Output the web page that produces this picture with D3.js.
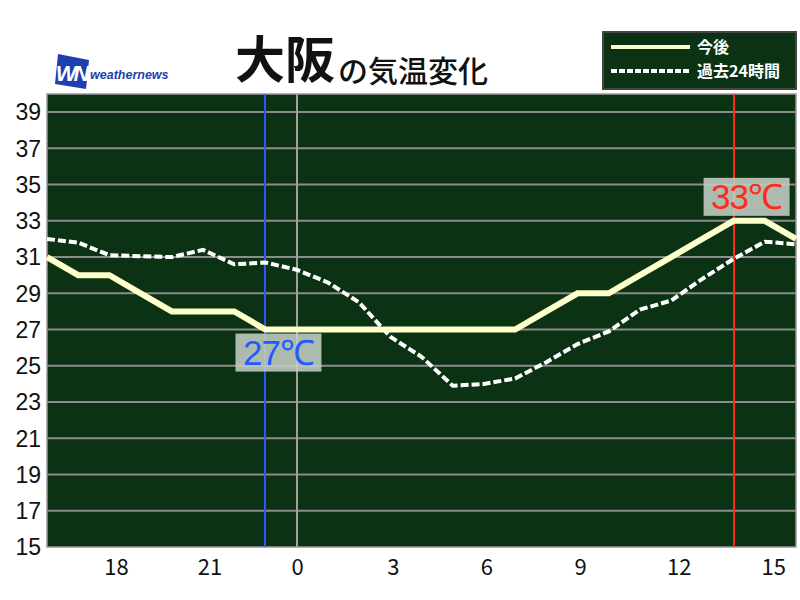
<!DOCTYPE html>
<html><head><meta charset="utf-8">
<script src="https://cdn.jsdelivr.net/npm/d3@7"></script>
<style>body{margin:0;background:#fff}svg{display:block}</style>
</head><body>
<script>
// Data
const hours = [-8,-7,-6,-5,-4,-3,-2,-1,0,1,2,3,4,5,6,7,8,9,10,11,12,13,14,15,16];
const forecast = [31,30,30,29,28,28,28,27,27,27,27,27,27,27,27,27,28,29,29,30,31,32,33,33,32];
const past24 = [32.0,31.8,31.1,31.05,31.0,31.4,30.6,30.7,30.3,29.6,28.5,26.6,25.5,23.9,24.0,24.3,25.2,26.2,26.9,28.1,28.6,29.8,30.9,31.85,31.7];
const xTickHours = [-6,-3,0,3,6,9,12,15];
const xTickLabels = ["18","21","0","3","6","9","12","15"];
const yTicks = [15,17,19,21,23,25,27,29,31,33,35,37,39];
const minHour = -1, minTemp = 27;
const maxHour = 14, maxTemp = 33;

const W = 800, H = 600;
const svg = d3.select("body").append("svg").attr("width", W).attr("height", H);
const L = 47, R = 796, T = 94, B = 547;
const x = d3.scaleLinear().domain([-8,16]).range([L,R]);
const y = d3.scaleLinear().domain([15,40]).range([B,T]);

// plot background
svg.append("rect").attr("x",L).attr("y",T).attr("width",R-L).attr("height",B-T)
  .attr("fill","#0b3313").attr("stroke","#9a9a9a").attr("stroke-width",1.5);

// grid lines
svg.append("g").selectAll("line").data(yTicks.filter(d=>d>15)).join("line")
  .attr("x1",L).attr("x2",R).attr("y1",d=>y(d)).attr("y2",d=>y(d))
  .attr("stroke","#8c8c8c").attr("stroke-width",2);

// vertical markers
const vx = h => Math.round(x(h));
svg.append("line").attr("x1",vx(0)).attr("x2",vx(0)).attr("y1",T).attr("y2",B)
  .attr("stroke","#a0a0a0").attr("stroke-width",2);
svg.append("line").attr("x1",vx(minHour)).attr("x2",vx(minHour)).attr("y1",T).attr("y2",B)
  .attr("stroke","#2a55ff").attr("stroke-width",2);
svg.append("line").attr("x1",vx(maxHour)).attr("x2",vx(maxHour)).attr("y1",T).attr("y2",B)
  .attr("stroke","#ff2a1a").attr("stroke-width",2);

const line = d3.line().x((d,i)=>x(hours[i])).y(d=>y(d));
svg.append("path").datum(past24).attr("d",line).attr("fill","none")
  .attr("stroke","#ffffff").attr("stroke-width",4).attr("stroke-dasharray","8,3");
svg.append("path").datum(forecast).attr("d",line).attr("fill","none")
  .attr("stroke","#ffffcc").attr("stroke-width",6).attr("stroke-linejoin","miter");

// y axis labels
svg.append("g").selectAll("text").data(yTicks).join("text")
  .attr("x",41).attr("y",d=>y(d)).attr("dy","0.36em").attr("text-anchor","end")
  .attr("font-family","Liberation Sans, Arial, sans-serif").attr("font-size",23)
  .attr("fill","#111").text(d=>d);

// x axis labels
svg.append("g").selectAll("text").data(xTickHours).join("text")
  .attr("x",(d,i)=>x(d)+ (d<0?7:(d>=12?(d==15?9:8):(d==0?1:3)))).attr("y",575).attr("text-anchor","middle")
  .attr("font-family","Noto Sans CJK JP, sans-serif").attr("font-size",22)
  .attr("fill","#111").text((d,i)=>xTickLabels[i]);

// min / max labels
function tempLabel(h, t, color, above){
  const cx = x(h)+13;
  const bw = 86, bh = 38;
  const by = above ? y(t)-5-bh : y(t)+4;
  svg.append("rect").attr("x",cx-bw/2).attr("y",by).attr("width",bw).attr("height",bh)
    .attr("fill","#c4cec4").attr("fill-opacity",0.88);
  svg.append("text").attr("x",cx).attr("y",by+bh/2).attr("dy","0.36em").attr("text-anchor","middle")
    .attr("font-family","Liberation Sans, Arial, sans-serif").attr("font-size",35)
    .attr("fill",color).attr("letter-spacing",-1).text(t+"℃");
}
tempLabel(minHour, minTemp, "#1f5cff", false);
tempLabel(maxHour, maxTemp, "#ff2a1a", true);

// title
const title = svg.append("text").attr("y",78).attr("font-family","Noto Sans CJK JP, sans-serif").attr("fill","#111");
title.append("tspan").attr("x",235).attr("font-size",50).attr("font-weight",700).text("大阪");
title.append("tspan").attr("font-size",30).attr("font-weight",500).attr("dy",4).attr("dx",3).text("の気温変化");

// logo
const lg = svg.append("g");
lg.append("path").attr("d","M58,54 L89,60 L86,89 L55,84 Z").attr("fill","#1f3fb0");
lg.append("text").attr("x",71).attr("y",81).attr("text-anchor","middle").attr("font-family","Liberation Sans, Arial, sans-serif")
  .attr("font-size",22).attr("font-weight","bold").attr("font-style","italic").attr("fill","#fff").attr("letter-spacing",-3).text("WN");
lg.append("text").attr("x",90).attr("y",79).attr("font-family","Liberation Sans, Arial, sans-serif")
  .attr("font-size",12.5).attr("font-style","italic").attr("font-weight","bold").attr("fill","#1f3fb0").text("weathernews");

// legend
svg.append("rect").attr("x",603).attr("y",32).attr("width",193).attr("height",57)
  .attr("fill","#0b3313").attr("stroke","#444").attr("stroke-width",2);
svg.append("line").attr("x1",611).attr("x2",690).attr("y1",47).attr("y2",47)
  .attr("stroke","#ffffcc").attr("stroke-width",4);
svg.append("line").attr("x1",611).attr("x2",690).attr("y1",71).attr("y2",71)
  .attr("stroke","#ffffff").attr("stroke-width",4).attr("stroke-dasharray","6,2");
svg.append("text").attr("x",697).attr("y",53).attr("font-family","Noto Sans CJK JP, sans-serif")
  .attr("font-size",16).attr("font-weight","bold").attr("fill","#fff").text("今後");
svg.append("text").attr("x",697).attr("y",77).attr("font-family","Noto Sans CJK JP, sans-serif")
  .attr("font-size",16).attr("font-weight","bold").attr("fill","#fff").text("過去24時間");
</script>
</body></html>
